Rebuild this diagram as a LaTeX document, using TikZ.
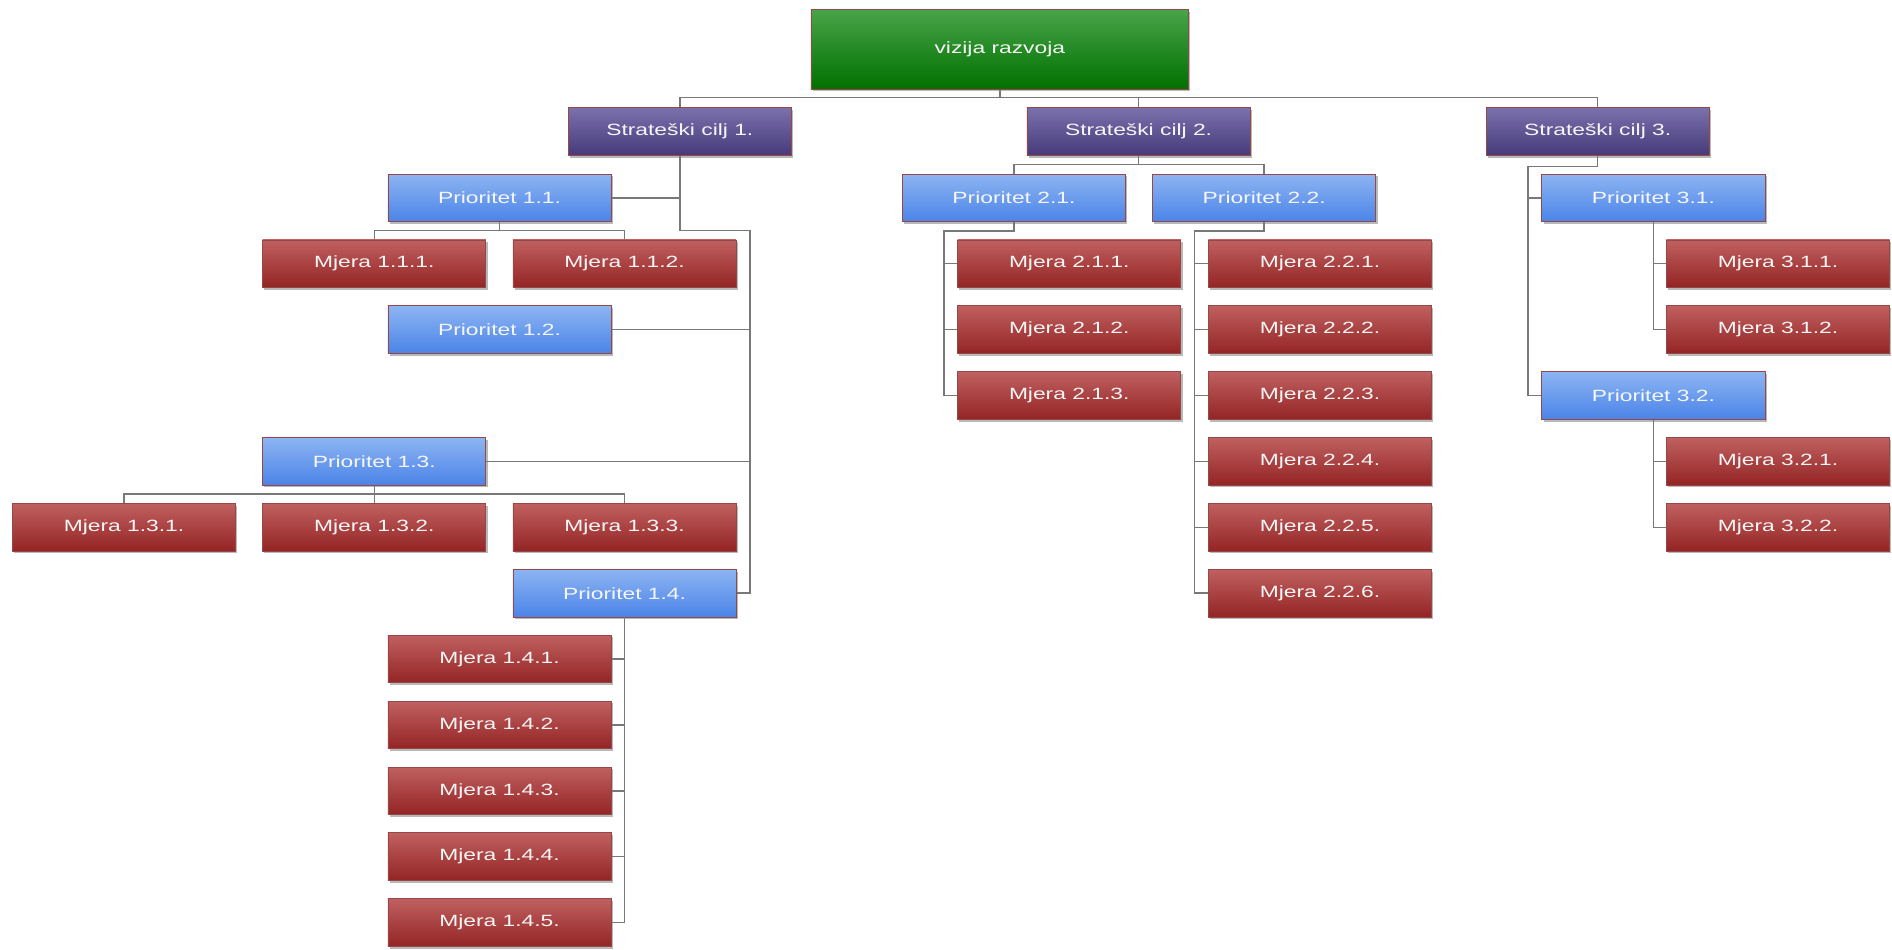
\documentclass[tikz,border=0pt]{standalone}
\usepackage{fontspec}
\setmainfont{Liberation Sans}[FakeStretch=1.4]
\usetikzlibrary{shadows}
\definecolor{mjtop}{RGB}{192,96,96}
\definecolor{mjbot}{RGB}{148,36,36}
\definecolor{prtop}{RGB}{141,180,242}
\definecolor{prbot}{RGB}{74,132,232}
\definecolor{citop}{RGB}{123,113,172}
\definecolor{cibot}{RGB}{70,58,122}
\definecolor{vztop}{RGB}{72,164,72}
\definecolor{vzbot}{RGB}{0,112,0}
\definecolor{bordc}{RGB}{150,72,72}
\definecolor{conc}{RGB}{120,120,120}
\definecolor{txtc}{RGB}{246,246,246}
\tikzset{
  box/.style={draw=bordc, line width=0.7pt, minimum width=185pt, minimum height=39.5pt,
    inner sep=0pt, text=txtc, font=\fontsize{13.5}{16}\selectfont,
    drop shadow={shadow xshift=1.5pt, shadow yshift=-1.8pt, opacity=0.28, fill=black}},
  mjbox/.style={box, top color=mjtop, bottom color=mjbot},
  prbox/.style={box, top color=prtop, bottom color=prbot},
  cibox/.style={box, top color=citop, bottom color=cibot, minimum height=40pt},
  vzbox/.style={box, top color=vztop, bottom color=vzbot, minimum width=313pt, minimum height=66pt},
  conn/.style={draw=conc, line width=1.2pt}
}
\begin{document}
\begin{tikzpicture}[x=1pt,y=-1pt]
\useasboundingbox[fill=white] (0,0) rectangle (1568,787.3);
% level 0 / 1
\node[vzbox] (viz) at (828.6,40.9) {vizija razvoja};
\node[cibox] (c1) at (563.4,109) {Strateški cilj 1.};
\node[cibox] (c2) at (943.6,109) {Strateški cilj 2.};
\node[cibox] (c3) at (1324.1,109) {Strateški cilj 3.};
% branch 1
\node[prbox] (p11) at (414,164.0) {Prioritet 1.1.};
\node[mjbox] (m111) at (310.2,218.6) {Mjera 1.1.1.};
\node[mjbox] (m112) at (517.6,218.6) {Mjera 1.1.2.};
\node[prbox] (p12) at (414,273.2) {Prioritet 1.2.};
\node[prbox] (p13) at (310.2,382.4) {Prioritet 1.3.};
\node[mjbox] (m131) at (102.8,437.0) {Mjera 1.3.1.};
\node[mjbox] (m132) at (310.2,437.0) {Mjera 1.3.2.};
\node[mjbox] (m133) at (517.6,437.0) {Mjera 1.3.3.};
\node[prbox] (p14) at (517.6,491.6) {Prioritet 1.4.};
\node[mjbox] (m141) at (414,546.2) {Mjera 1.4.1.};
\node[mjbox] (m142) at (414,600.8) {Mjera 1.4.2.};
\node[mjbox] (m143) at (414,655.4) {Mjera 1.4.3.};
\node[mjbox] (m144) at (414,710.0) {Mjera 1.4.4.};
\node[mjbox] (m145) at (414,764.6) {Mjera 1.4.5.};
% branch 2
\node[prbox] (p21) at (840.3,164.0) {Prioritet 2.1.};
\node[prbox] (p22) at (1047.7,164.0) {Prioritet 2.2.};
\node[mjbox] (m211) at (886.1,218.6) {Mjera 2.1.1.};
\node[mjbox] (m212) at (886.1,273.2) {Mjera 2.1.2.};
\node[mjbox] (m213) at (886.1,327.8) {Mjera 2.1.3.};
\node[mjbox] (m221) at (1094,218.6) {Mjera 2.2.1.};
\node[mjbox] (m222) at (1094,273.2) {Mjera 2.2.2.};
\node[mjbox] (m223) at (1094,327.8) {Mjera 2.2.3.};
\node[mjbox] (m224) at (1094,382.4) {Mjera 2.2.4.};
\node[mjbox] (m225) at (1094,437.0) {Mjera 2.2.5.};
\node[mjbox] (m226) at (1094,491.6) {Mjera 2.2.6.};
% branch 3
\node[prbox] (p31) at (1370.3,164.0) {Prioritet 3.1.};
\node[mjbox] (m311) at (1473.5,218.6) {Mjera 3.1.1.};
\node[mjbox] (m312) at (1473.5,273.2) {Mjera 3.1.2.};
\node[prbox] (p32) at (1370.3,327.8) {Prioritet 3.2.};
\node[mjbox] (m321) at (1473.5,382.4) {Mjera 3.2.1.};
\node[mjbox] (m322) at (1473.5,437.0) {Mjera 3.2.2.};
% connectors
\coordinate (vbus) at (828.6,80.7);
\draw[conn] (viz.south) -- (viz.south |- vbus);
\draw[conn] (c1.north) -- (c1.north |- vbus) -- (c3.north |- vbus) -- (c3.north);
\draw[conn] (c2.north) -- (c2.north |- vbus);
% cilj 1
\coordinate (c1turn) at (621.5,191.2);
\draw[conn] (c1.south) |- (c1turn) -- (c1turn |- p14.east) -- (p14.east);
\draw[conn] (p11.east) -- (p11.east -| c1.south);
\draw[conn] (p12.east) -- (p12.east -| c1turn);
\draw[conn] (p13.east) -- (p13.east -| c1turn);
% prioritet 1.1
\draw[conn] (p11.south) -- ++(0,7.5);
\draw[conn] (m111.north) -- ++(0,-7.5) -| (m112.north);
% prioritet 1.3
\draw[conn] (p13.south) -- ++(0,7.5);
\draw[conn] (m131.north) -- ++(0,-7.5) -| (m133.north);
\draw[conn] (m132.north) -- ++(0,-7.5);
% prioritet 1.4
\draw[conn] (p14.south) -- (p14.south |- m145.east) -- (m145.east);
\foreach \m in {m141,m142,m143,m144}
  \draw[conn] (\m.east) -- (\m.east -| p14.south);
% cilj 2
\draw[conn] (c2.south) -- ++(0,7.5);
\draw[conn] (p21.north) -- ++(0,-7.5) -| (p22.north);
% prioritet 2.1
\draw[conn] (p21.south) -- ++(0,7.5) -| ([xshift=-11pt]m213.west) -- (m213.west);
\foreach \m in {m211,m212}
  \draw[conn] (\m.west) -- ++(-11,0);
% prioritet 2.2
\draw[conn] (p22.south) -- ++(0,7.5) -| ([xshift=-11pt]m226.west) -- (m226.west);
\foreach \m in {m221,m222,m223,m224,m225}
  \draw[conn] (\m.west) -- ++(-11,0);
% cilj 3
\draw[conn] (c3.south) -- ++(0,8.6) -| ([xshift=-11pt]p32.west) -- (p32.west);
\draw[conn] (p31.west) -- ++(-11,0);
% prioritet 3.1
\draw[conn] (p31.south) -- (p31.south |- m312.west) -- (m312.west);
\draw[conn] (m311.west) -- (m311.west -| p31.south);
% prioritet 3.2
\draw[conn] (p32.south) -- (p32.south |- m322.west) -- (m322.west);
\draw[conn] (m321.west) -- (m321.west -| p32.south);
\end{tikzpicture}
\end{document}
